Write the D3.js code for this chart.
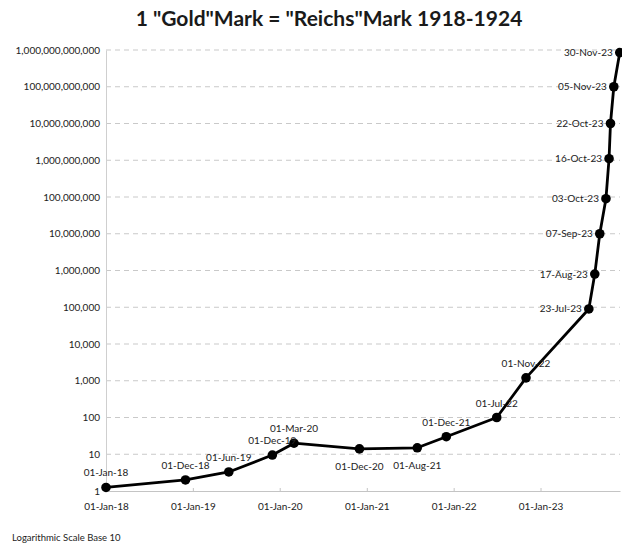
<!DOCTYPE html>
<html>
<head>
<meta charset="utf-8">
<script src="https://cdn.jsdelivr.net/npm/d3@7"></script>
<style>
  html, body { margin: 0; padding: 0; background: #fff; }
  svg { display: block; font-family: Lato, "Liberation Sans", sans-serif; }
</style>
</head>
<body>
<svg id="chart" width="622" height="546"></svg>
<script>
// ---- Data ----
const dates = ["1918-01-01","1918-12-01","1919-06-01","1919-12-01","1920-03-01","1920-12-01",
  "1921-08-01","1921-12-01","1922-07-01","1922-11-01","1923-07-23","1923-08-17","1923-09-07",
  "1923-10-03","1923-10-16","1923-10-22","1923-11-05","1923-11-30"];
const pointLabels = ["01-Jan-18","01-Dec-18","01-Jun-19","01-Dec-19","01-Mar-20","01-Dec-20",
  "01-Aug-21","01-Dec-21","01-Jul-22","01-Nov-22","23-Jul-23","17-Aug-23","07-Sep-23",
  "03-Oct-23","16-Oct-23","22-Oct-23","05-Nov-23","30-Nov-23"];
const marksPerGoldMark = [1.25, 2, 3.3, 9.5, 20, 14, 15, 30, 100, 1200, 90000, 800000,
  10000000, 90000000, 1100000000, 10000000000, 100000000000, 850000000000];
const labelPlacement = ["above","above","above","above","above","below","below","above","above",
  "above","left","left","left","left","left","left","left","left"];
const yTickValues = [1, 10, 100, 1000, 1e4, 1e5, 1e6, 1e7, 1e8, 1e9, 1e10, 1e11, 1e12];
const xTickDates = ["1918-01-01","1919-01-01","1920-01-01","1921-01-01","1922-01-01","1923-01-01"];
const xTickLabels = ["01-Jan-18","01-Jan-19","01-Jan-20","01-Jan-21","01-Jan-22","01-Jan-23"];
const titleText = '1 "Gold"Mark = "Reichs"Mark 1918-1924';
const footnote = "Logarithmic Scale Base 10";

// ---- Layout ----
const svg = d3.select("#chart");
const parse = d3.utcParse("%Y-%m-%d");
const plotLeft = 106, plotRight = 620, plotTop = 50, plotBottom = 491;

const x = d3.scaleUtc()
  .domain([parse("1918-01-01"), parse("1923-12-01")])
  .range([plotLeft, plotRight]);
const y = d3.scaleLog().domain([1, 1e12]).range([plotBottom, plotTop]);

// Title
svg.append("text")
  .attr("x", 329).attr("y", 26)
  .attr("text-anchor", "middle")
  .attr("font-size", 21).attr("font-weight", "bold")
  .attr("fill", "#1a1a1a")
  .text(titleText);

// Gridlines (dashed)
svg.append("g").selectAll("line")
  .data(yTickValues.filter(v => v > 1))
  .join("line")
  .attr("x1", plotLeft).attr("x2", plotRight)
  .attr("y1", d => y(d)).attr("y2", d => y(d))
  .attr("stroke", "#c9c9c9").attr("stroke-width", 1)
  .attr("stroke-dasharray", "5,4");

// Y axis
const yAxis = d3.axisLeft(y)
  .tickValues(yTickValues)
  .tickFormat(d3.format(",.0f"))
  .tickSize(0).tickPadding(6);
const gy = svg.append("g").attr("transform", `translate(${plotLeft},0)`).call(yAxis);
gy.select(".domain").attr("stroke", "#cfcfcf");
gy.selectAll("text").attr("font-size", 10).attr("fill", "#222")
  .attr("font-family", "Lato, 'Liberation Sans', sans-serif");

// X axis
const xAxis = d3.axisBottom(x)
  .tickValues(xTickDates.map(parse))
  .tickFormat((d, i) => xTickLabels[i])
  .tickSizeInner(-3).tickSizeOuter(0).tickPadding(12);
const gx = svg.append("g").attr("transform", `translate(0,${plotBottom})`).call(xAxis);
gx.select(".domain").attr("stroke", "#c4c4c4");
gx.selectAll(".tick line").attr("stroke", "#c4c4c4");
gx.selectAll("text").attr("font-size", 10).attr("fill", "#222")
  .attr("font-family", "Lato, 'Liberation Sans', sans-serif");

// Data
const data = dates.map((d, i) => ({
  date: parse(d), value: marksPerGoldMark[i], label: pointLabels[i], place: labelPlacement[i]
}));

svg.append("path")
  .datum(data)
  .attr("fill", "none")
  .attr("stroke", "#000")
  .attr("stroke-width", 2.8)
  .attr("stroke-linejoin", "round")
  .attr("d", d3.line().x(d => x(d.date)).y(d => y(d.value)));

svg.append("g").selectAll("circle")
  .data(data).join("circle")
  .attr("cx", d => x(d.date)).attr("cy", d => y(d.value))
  .attr("r", 4.8).attr("fill", "#000");

// Point labels
svg.append("g").selectAll("text")
  .data(data).join("text")
  .attr("font-size", 10).attr("fill", "#222")
  .attr("x", d => d.place === "left" ? x(d.date) - 7 : x(d.date))
  .attr("y", d => {
    const py = y(d.value);
    if (d.place === "above") return py - 11;
    if (d.place === "below") return py + 21;
    return py + 3.5;
  })
  .attr("text-anchor", d => d.place === "left" ? "end" : "middle")
  .text(d => d.label);

// Footnote
svg.append("text")
  .attr("x", 12).attr("y", 541)
  .attr("font-size", 9.5).attr("fill", "#222")
  .text(footnote);
</script>
</body>
</html>
